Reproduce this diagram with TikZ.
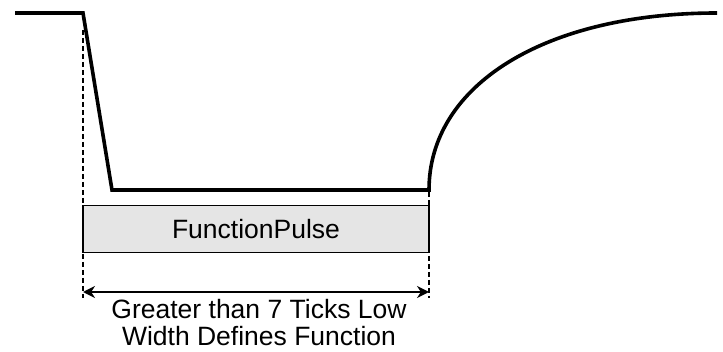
\documentclass[tikz,border=0pt]{standalone}
\usepackage{fontspec}
\setmainfont{Liberation Sans}
\usetikzlibrary{arrows.meta,positioning}
\begin{document}
\begin{tikzpicture}[x=1pt, y=-1pt, >={Stealth[length=12pt, width=12pt]},
    wave/.style = {line width=3.6pt, line join=miter},
    guide/.style = {line width=1.8pt, dash pattern=on 5pt off 3pt},
    pulsebox/.style = {draw, fill=black!10, line width=1.4pt, minimum width=346pt, minimum height=47pt, inner sep=0pt, font=\fontsize{26.5}{30}\selectfont},
    caption/.style = {align=center, font=\fontsize{26.5}{27}\selectfont}]
    \useasboundingbox (0,0) rectangle (723,352);
    % waveform
    \coordinate (high) at (15,13);
    \coordinate (fall) at (83,13);
    \coordinate (low) at (112,190);
    \coordinate (rise) at (429,190);
    \coordinate (top) at (717,13);
    \draw[wave] (high) -- (fall) -- (low) -- (rise) .. controls (429,85) and (545,13) .. (top);
    % guides
    \coordinate (gl) at (83,30);
    \coordinate (gr) at (429,192);
    \coordinate (gl end) at (83,298);
    \coordinate (gr end) at (429,298);
    \draw[guide] (gl) -- (gl end);
    \draw[guide] (gr) -- (gr end);
    % pulse box
    \node[pulsebox] (pulse) at (256,229) {FunctionPulse};
    \coordinate (al) at (83,292);
    \coordinate (ar) at (429,292);
    \draw[<->, line width=2pt] (al) -- (ar);
    \node[caption] (width) at (259,323) {Greater than 7 Ticks Low\\Width Defines Function};
\end{tikzpicture}
\end{document}
